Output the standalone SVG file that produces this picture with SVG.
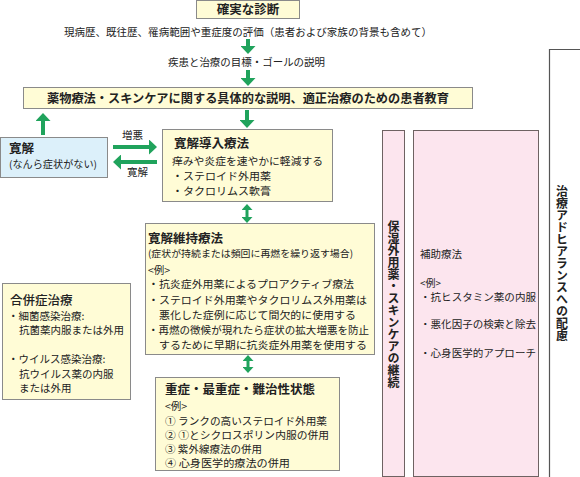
<svg xmlns="http://www.w3.org/2000/svg" width="580" height="477" viewBox="0 0 580 477">
<defs>
<style>
text{font-family:"Noto Sans CJK JP","Noto Sans",sans-serif;fill:#222;}
.b{font-weight:bold;}
.s{font-size:10.5px;}
.y{fill:#fffcd6;stroke:#8a8a8a;stroke-width:1;}
.bl{fill:#dcf0fa;stroke:#8a8a8a;stroke-width:1;}
.pk{fill:#fce5ee;stroke:#6e6262;stroke-width:1;}
.ln{fill:none;stroke:#555;stroke-width:1.2;}
.ar{fill:none;stroke:#20a35c;stroke-width:4;}
.ad{fill:none;stroke:#20a35c;stroke-width:3;}
.vt{writing-mode:vertical-rl;text-orientation:upright;}
</style>
<marker id="ah" markerUnits="userSpaceOnUse" markerWidth="8" markerHeight="15" viewBox="0 0 8 15" refX="0" refY="7.5" orient="auto">
<path d="M0,0 L8,7.5 L0,15 z" fill="#20a35c"/>
</marker>
<marker id="ah2" markerUnits="userSpaceOnUse" markerWidth="6" markerHeight="11" viewBox="0 0 6 11" refX="0" refY="5.5" orient="auto-start-reverse">
<path d="M0,0 L6,5.5 L0,11 z" fill="#20a35c"/>
</marker>
</defs>

<g id="adherence">
<path class="ln" d="M580,49.5 H549.5 V477"/>
<text class="b vt" x="562" y="185" font-size="12">治療アドヒアランスへの配慮</text>
</g>

<g id="diagnosis">
<rect class="y" x="196.5" y="0.5" width="103" height="18"/>
<text class="b" x="248" y="14" font-size="12.5" text-anchor="middle">確実な診断</text>
</g>

<g id="evaluation">
<text x="64" y="36" font-size="10.5" textLength="368" lengthAdjust="spacingAndGlyphs">現病歴、既往歴、罹病範囲や重症度の評価（患者および家族の背景も含めて）</text>
</g>

<g id="goal">
<text x="168" y="66" font-size="10.5" textLength="157" lengthAdjust="spacingAndGlyphs">疾患と治療の目標・ゴールの説明</text>
</g>

<g id="education">
<rect class="y" x="23.5" y="87.5" width="449" height="21"/>
<text class="b" x="47" y="103" font-size="12.2" textLength="402" lengthAdjust="spacingAndGlyphs">薬物療法・スキンケアに関する具体的な説明、適正治療のための患者教育</text>
</g>

<g id="remission">
<rect class="bl" x="0.5" y="137.5" width="107" height="40"/>
<text class="b" x="9" y="153" font-size="12.5">寛解</text>
<text x="9" y="168" font-size="10" textLength="88" lengthAdjust="spacingAndGlyphs">(なんら症状がない)</text>
</g>

<g id="induction">
<rect class="y" x="162.5" y="129.5" width="170" height="72"/>
<text class="b" x="174" y="148" font-size="12.5">寛解導入療法</text>
<text x="172" y="165" class="s" textLength="151" lengthAdjust="spacingAndGlyphs">痒みや炎症を速やかに軽減する</text>
<text x="172" y="180" class="s" textLength="99" lengthAdjust="spacingAndGlyphs">・ステロイド外用薬</text>
<text x="172" y="195" class="s" textLength="99" lengthAdjust="spacingAndGlyphs">・タクロリムス軟膏</text>
</g>

<g id="maintenance">
<rect class="y" x="145.5" y="223.5" width="229" height="131"/>
<text class="b" x="148" y="243" font-size="12.5">寛解維持療法</text>
<text x="148" y="257" font-size="9.6" textLength="205" lengthAdjust="spacingAndGlyphs">(症状が持続または頻回に再燃を繰り返す場合)</text>
<text x="148" y="274" class="s">&lt;例&gt;</text>
<text x="148" y="288" class="s" textLength="206" lengthAdjust="spacingAndGlyphs">・抗炎症外用薬によるプロアクティブ療法</text>
<text x="148" y="304" class="s" textLength="219" lengthAdjust="spacingAndGlyphs">・ステロイド外用薬やタクロリムス外用薬は</text>
<text x="159" y="319" class="s" textLength="197" lengthAdjust="spacingAndGlyphs">悪化した症例に応じて間欠的に使用する</text>
<text x="148" y="334" class="s" textLength="221" lengthAdjust="spacingAndGlyphs">・再燃の徴候が現れたら症状の拡大増悪を防止</text>
<text x="159" y="349" class="s" textLength="208" lengthAdjust="spacingAndGlyphs">するために早期に抗炎症外用薬を使用する</text>
</g>

<g id="severe">
<rect class="y" x="155.5" y="377.5" width="184" height="93"/>
<text class="b" x="165" y="394" font-size="12" textLength="150" lengthAdjust="spacingAndGlyphs">重症・最重症・難治性状態</text>
<text x="165" y="410" class="s">&lt;例&gt;</text>
<text x="165" y="425" class="s" textLength="162" lengthAdjust="spacingAndGlyphs">① ランクの高いステロイド外用薬</text>
<text x="165" y="439" class="s" textLength="164" lengthAdjust="spacingAndGlyphs">② ①とシクロスポリン内服の併用</text>
<text x="165" y="453" class="s" textLength="97" lengthAdjust="spacingAndGlyphs">③ 紫外線療法の併用</text>
<text x="165" y="467" class="s" textLength="125" lengthAdjust="spacingAndGlyphs">④ 心身医学的療法の併用</text>
</g>

<g id="complication">
<rect class="y" x="2.5" y="283.5" width="128" height="116"/>
<text x="10" y="305" font-size="12.5" font-weight="500">合併症治療</text>
<text x="8" y="320" class="s">・細菌感染治療:</text>
<text x="19" y="334" class="s">抗菌薬内服または外用</text>
<text x="8" y="363" class="s">・ウイルス感染治療:</text>
<text x="19" y="378" class="s">抗ウイルス薬の内服</text>
<text x="19" y="392" class="s">または外用</text>
</g>

<g id="skincare">
<rect class="pk" x="382.5" y="130.5" width="22" height="346"/>
<text class="b vt" x="393.5" y="220" font-size="12">保湿外用薬・スキンケアの継続</text>
</g>

<g id="adjunct">
<rect class="pk" x="413.5" y="130.5" width="125" height="346"/>
<text x="420" y="258" font-size="10.5">補助療法</text>
<text x="420" y="287" font-size="10">&lt;例&gt;</text>
<text x="420" y="301" font-size="10" textLength="116" lengthAdjust="spacingAndGlyphs">・抗ヒスタミン薬の内服</text>
<text x="420" y="328" font-size="10" textLength="116" lengthAdjust="spacingAndGlyphs">・悪化因子の検索と除去</text>
<text x="420" y="357" font-size="10" textLength="116" lengthAdjust="spacingAndGlyphs">・心身医学的アプローチ</text>
</g>

<g id="connectors">
<path class="ar" d="M248,39 V46" marker-end="url(#ah)"/>
<path class="ar" d="M248,70 V78" marker-end="url(#ah)"/>
<path class="ar" d="M247,110 V120" marker-end="url(#ah)"/>
<path class="ar" d="M43,135 V121" marker-end="url(#ah)"/>
<path class="ar" d="M113,147 H149" marker-end="url(#ah)"/>
<path class="ar" d="M157,162 H121" marker-end="url(#ah)"/>
<path class="ad" d="M247,210 V217" marker-start="url(#ah2)" marker-end="url(#ah2)"/>
<path class="ad" d="M248,361 V367" marker-start="url(#ah2)" marker-end="url(#ah2)"/>
<text x="122" y="139" font-size="10.5">増悪</text>
<text x="127" y="176" font-size="10.5">寛解</text>
</g>
</svg>
